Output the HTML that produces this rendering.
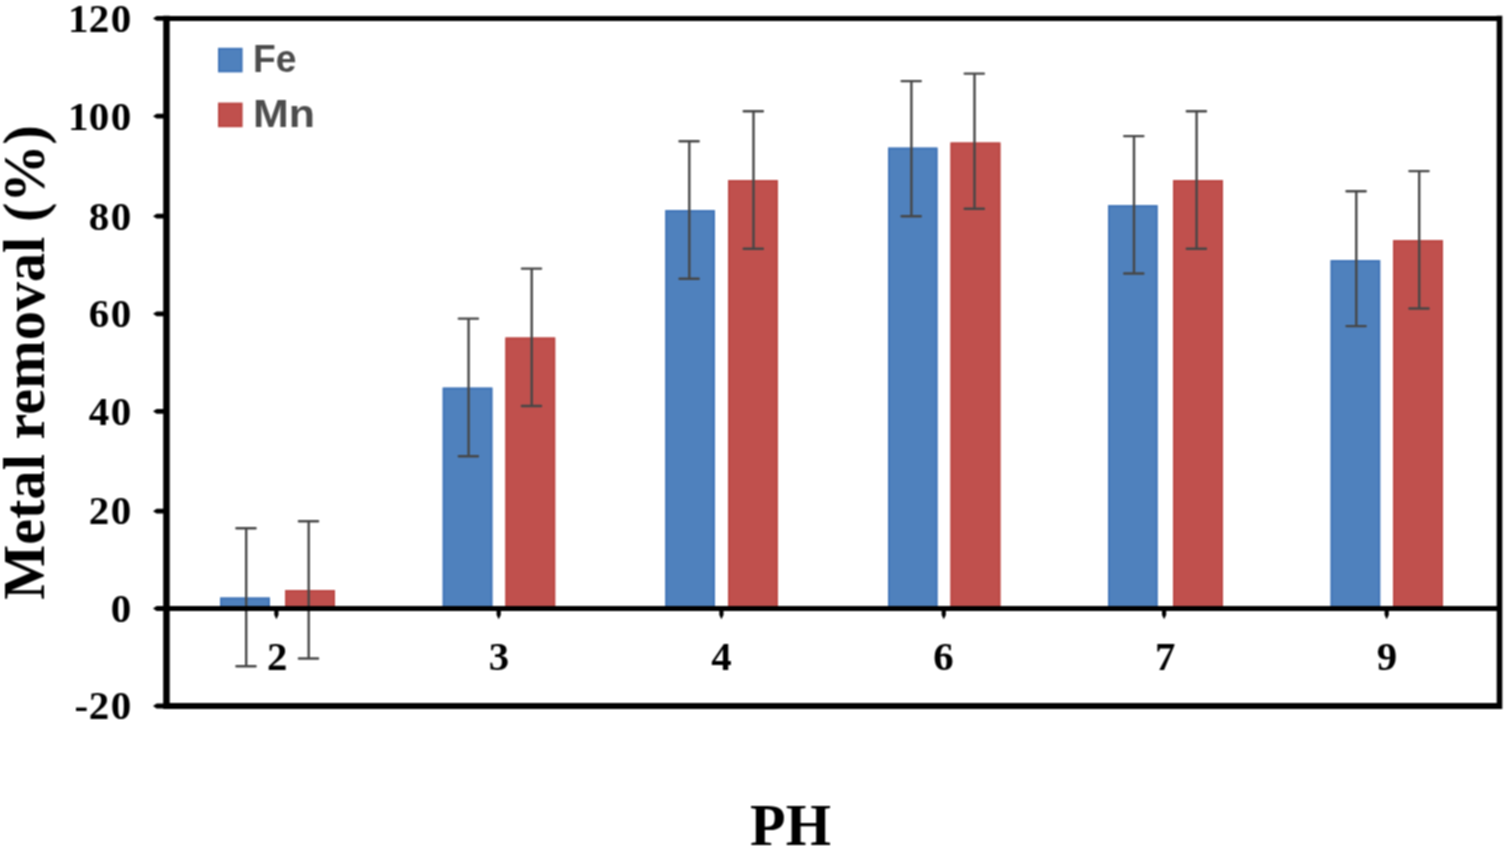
<!DOCTYPE html>
<html lang="en"><head><meta charset="utf-8"><title>Metal removal (%) vs PH</title>
<style>html,body{margin:0;padding:0;background:#fff;overflow:hidden}svg{display:block}.s{font-family:"Liberation Serif",serif;font-weight:bold;fill:#000}.a{font-family:"Liberation Sans",sans-serif;font-weight:bold;fill:#4c4c4c}</style></head><body>
<svg width="1508" height="850" viewBox="0 0 1508 850">
<defs><filter id="soft" x="0" y="0" width="1508" height="850" filterUnits="userSpaceOnUse" color-interpolation-filters="sRGB"><feConvolveMatrix order="3" kernelMatrix="4 6 4 6 9 6 4 6 4" divisor="49" edgeMode="duplicate" preserveAlpha="true"/></filter></defs>
<rect width="1508" height="850" fill="#fff"/>
<g filter="url(#soft)">
<rect x="-10" y="-10" width="1528" height="870" fill="#fff"/>
<g id="bars">
<rect x="220.1" y="597.5" width="49.8" height="11.0" fill="#4f81bd"/>
<rect x="221.1" y="598.5" width="47.8" height="11.0" fill="none" stroke="#4175b8" stroke-width="2"/>
<rect x="285.2" y="590.0" width="49.8" height="18.5" fill="#c0504d"/>
<rect x="286.2" y="591.0" width="47.8" height="18.5" fill="none" stroke="#bb4643" stroke-width="2"/>
<rect x="442.7" y="387.6" width="49.7" height="220.9" fill="#4f81bd"/>
<rect x="443.7" y="388.6" width="47.7" height="220.9" fill="none" stroke="#4175b8" stroke-width="2"/>
<rect x="505.4" y="337.5" width="49.8" height="271.0" fill="#c0504d"/>
<rect x="506.4" y="338.5" width="47.8" height="271.0" fill="none" stroke="#bb4643" stroke-width="2"/>
<rect x="665.3" y="210.1" width="49.6" height="398.4" fill="#4f81bd"/>
<rect x="666.3" y="211.1" width="47.6" height="398.4" fill="none" stroke="#4175b8" stroke-width="2"/>
<rect x="728.0" y="180.1" width="49.8" height="428.4" fill="#c0504d"/>
<rect x="729.0" y="181.1" width="47.8" height="428.4" fill="none" stroke="#bb4643" stroke-width="2"/>
<rect x="888.0" y="147.6" width="49.5" height="460.9" fill="#4f81bd"/>
<rect x="889.0" y="148.6" width="47.5" height="460.9" fill="none" stroke="#4175b8" stroke-width="2"/>
<rect x="950.5" y="142.5" width="49.9" height="466.0" fill="#c0504d"/>
<rect x="951.5" y="143.5" width="47.9" height="466.0" fill="none" stroke="#bb4643" stroke-width="2"/>
<rect x="1108.0" y="205.2" width="49.6" height="403.3" fill="#4f81bd"/>
<rect x="1109.0" y="206.2" width="47.6" height="403.3" fill="none" stroke="#4175b8" stroke-width="2"/>
<rect x="1173.0" y="180.1" width="50.0" height="428.4" fill="#c0504d"/>
<rect x="1174.0" y="181.1" width="48.0" height="428.4" fill="none" stroke="#bb4643" stroke-width="2"/>
<rect x="1330.6" y="260.1" width="49.6" height="348.4" fill="#4f81bd"/>
<rect x="1331.6" y="261.1" width="47.6" height="348.4" fill="none" stroke="#4175b8" stroke-width="2"/>
<rect x="1393.0" y="240.2" width="50.0" height="368.3" fill="#c0504d"/>
<rect x="1394.0" y="241.2" width="48.0" height="368.3" fill="none" stroke="#bb4643" stroke-width="2"/>
</g>
<g id="errors" stroke="#464646" stroke-width="2.4" fill="none" stroke-linecap="round">
<path d="M236.4 528.2H255.6M246.2 528.2V666.3M236.4 666.3H255.6"/>
<path d="M298.9 521.2H318.1M308.7 521.2V658.5M298.9 658.5H318.1"/>
<path d="M458.8 318.6H478.0M468.6 318.6V456.2M458.8 456.2H478.0"/>
<path d="M521.9 268.6H541.1M531.7 268.6V406.0M521.9 406.0H541.1"/>
<path d="M679.5 141.3H698.7M689.3 141.3V278.7M679.5 278.7H698.7"/>
<path d="M743.7 111.3H762.9M753.5 111.3V248.7M743.7 248.7H762.9"/>
<path d="M901.6 81.1H920.8M911.4 81.1V216.2M901.6 216.2H920.8"/>
<path d="M964.7 73.6H983.9M974.5 73.6V208.7M964.7 208.7H983.9"/>
<path d="M1124.2 136.1H1143.4M1134.0 136.1V273.5M1124.2 273.5H1143.4"/>
<path d="M1186.8 111.3H1206.0M1196.6 111.3V248.7M1186.8 248.7H1206.0"/>
<path d="M1346.5 191.3H1365.7M1356.3 191.3V326.1M1346.5 326.1H1365.7"/>
<path d="M1409.4 171.1H1428.6M1419.2 171.1V308.5M1409.4 308.5H1428.6"/>
</g>
<g id="axes" stroke="#000" fill="none" stroke-linecap="butt">
<line x1="166.45" y1="15.85" x2="166.45" y2="709.0" stroke-width="6.5"/>
<line x1="1499.5" y1="15.85" x2="1499.5" y2="709.0" stroke-width="5.6"/>
<line x1="166.45" y1="18.45" x2="1499.6" y2="18.45" stroke-width="5.1"/>
<line x1="166.45" y1="706.0" x2="1499.6" y2="706.0" stroke-width="5.9"/>
<line x1="166.45" y1="608.5" x2="1499.6" y2="608.5" stroke-width="5.0"/>
</g>
<g id="ticks" fill="#000">
<path d="M166.45 16.05H156.6L153 18.45L156.6 20.85H166.45Z"/>
<path d="M166.45 113.80H156.6L153 116.20L156.6 118.60H166.45Z"/>
<path d="M166.45 213.75H156.6L153 216.15L156.6 218.55H166.45Z"/>
<path d="M166.45 311.40H156.6L153 313.80L156.6 316.20H166.45Z"/>
<path d="M166.45 408.90H156.6L153 411.30L156.6 413.70H166.45Z"/>
<path d="M166.45 508.75H156.6L153 511.15L156.6 513.55H166.45Z"/>
<path d="M166.45 606.10H156.6L153 608.50L156.6 610.90H166.45Z"/>
<path d="M166.45 703.60H156.6L153 706.00L156.6 708.40H166.45Z"/>
<path d="M274.30 608.5V615.10L276.40 619.30L278.50 615.10V608.5Z"/>
<path d="M496.60 608.5V615.10L498.70 619.30L500.80 615.10V608.5Z"/>
<path d="M719.30 608.5V615.10L721.40 619.30L723.50 615.10V608.5Z"/>
<path d="M941.65 608.5V615.10L943.75 619.30L945.85 615.10V608.5Z"/>
<path d="M1162.00 608.5V615.10L1164.10 619.30L1166.20 615.10V608.5Z"/>
<path d="M1384.60 608.5V615.10L1386.70 619.30L1388.80 615.10V608.5Z"/>
<path d="M1497.50 608.5V615.10L1499.60 619.30L1501.70 615.10V608.5Z"/>
</g>
<text class="s" x="67.9 88.8 110.8" y="31.8" font-size="41.0">120</text>
<text class="s" x="67.9 88.8 110.8" y="129.5" font-size="41.0">100</text>
<text class="s" x="88.8 110.8" y="229.5" font-size="41.0">80</text>
<text class="s" x="88.8 110.8" y="327.1" font-size="41.0">60</text>
<text class="s" x="88.8 110.8" y="424.6" font-size="41.0">40</text>
<text class="s" x="88.8 110.8" y="524.4" font-size="41.0">20</text>
<text class="s" x="110.8" y="621.8" font-size="41.0">0</text>
<text class="s" x="74.6 88.8 110.8" y="719.3" font-size="41.0">-20</text>
<text class="s" x="277.3" y="669.8" font-size="40.8" text-anchor="middle">2</text>
<text class="s" x="498.9" y="669.8" font-size="40.8" text-anchor="middle">3</text>
<text class="s" x="721.4" y="669.8" font-size="40.8" text-anchor="middle">4</text>
<text class="s" x="943.5" y="669.8" font-size="40.8" text-anchor="middle">6</text>
<text class="s" x="1165.3" y="669.8" font-size="40.8" text-anchor="middle">7</text>
<text class="s" x="1387.0" y="669.8" font-size="40.8" text-anchor="middle">9</text>
<text class="s" x="790.5" y="844.9" font-size="58.2" text-anchor="middle">PH</text>
<text class="s" transform="translate(44.1 362.4) rotate(-90)" font-size="58.3" text-anchor="middle">Metal removal (%)</text>
<rect x="219" y="48.8" width="22.6" height="22.6" fill="#4f81bd" stroke="#4175b8" stroke-width="2"/>
<rect x="219" y="103.6" width="22.6" height="22.6" fill="#c0504d" stroke="#bb4643" stroke-width="2"/>
<text class="a" x="253" y="72.4" font-size="38.8" textLength="43.4" lengthAdjust="spacingAndGlyphs">Fe</text>
<text class="a" x="253" y="127.3" font-size="38.8" textLength="62" lengthAdjust="spacingAndGlyphs">Mn</text>
</g>
</svg></body></html>
